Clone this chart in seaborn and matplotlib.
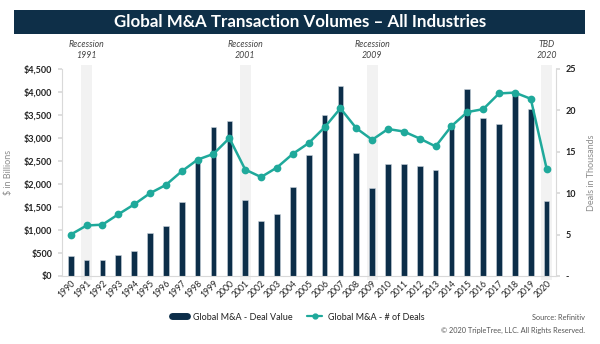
import matplotlib
matplotlib.use("Agg")
import matplotlib.pyplot as plt
from matplotlib.patches import Rectangle
from matplotlib.lines import Line2D
from matplotlib.ticker import FuncFormatter
import numpy as np
import pandas as pd
import seaborn as sns

years = [str(y) for y in range(1990, 2021)]
deal_value = [430, 340, 355, 450, 550, 940, 1090, 1600, 2480, 3230, 3380,
              1645, 1190, 1340, 1930, 2630, 3490, 4140, 2670, 1905, 2430,
              2435, 2390, 2305, 3325, 4060, 3430, 3300, 3995, 3630, 1625]
deal_count = [5.0, 6.1, 6.2, 7.45, 8.65, 10.0, 11.0, 12.65, 14.05, 14.75, 16.65,
              12.85, 11.95, 13.1, 14.75, 16.05, 17.95, 20.25, 17.85, 16.45, 17.75,
              17.45, 16.6, 15.65, 18.1, 19.8, 20.15, 22.05, 22.15, 21.4, 12.95]
recession_years = ["1991", "2001", "2009", "2020"]
recession_labels = ["Recession\n1991", "Recession\n2001", "Recession\n2009", "TBD\n2020"]

NAVY = "#0c2e49"
TEAL = "#1fa99b"
SHADE = "#f2f2f2"
GRID_GREY = "#d9d9d9"

sns.set_theme(style="white")
plt.rcParams["font.family"] = ["Lato", "DejaVu Sans"]

df = pd.DataFrame({"year": years, "value": deal_value, "deals": deal_count})

fig = plt.figure(figsize=(6.0, 3.44), dpi=100)
ax = fig.add_axes([62 / 600, 1 - 276 / 344, (556 - 62) / 600, (276 - 69) / 344])
ax2 = ax.twinx()

# Recession shading, running a little past the plot frame
for yr in recession_years:
    i = years.index(yr)
    ax.add_patch(Rectangle((i - 0.34, -90), 0.68, 4680, facecolor=SHADE,
                           edgecolor="none", clip_on=False, zorder=0))

sns.barplot(data=df, x="year", y="value", ax=ax, color=NAVY, width=0.36,
            saturation=1, edgecolor="#c9d3dc", linewidth=0.4, zorder=2)

sns.pointplot(data=df, x="year", y="deals", ax=ax2, color=TEAL,
              markers="o", markersize=4.2, linewidth=1.8, zorder=3)

ax.set_xlim(-0.55, 30.59)
ax2.set_xlim(-0.55, 30.59)
ax.set_ylim(0, 4500)
ax2.set_ylim(0, 25)
ax.set_yticks(np.arange(0, 4501, 500))
ax2.set_yticks(np.arange(0, 26, 5))
ax.yaxis.set_major_formatter(FuncFormatter(lambda v, p: f"${v:,.0f}"))
ax2.yaxis.set_major_formatter(FuncFormatter(lambda v, p: "-" if v == 0 else f"{v:.0f}"))

ax.set_zorder(ax2.get_zorder() - 1)
ax.patch.set_visible(False)
ax2.patch.set_visible(False)

for a in (ax, ax2):
    for s in a.spines.values():
        s.set_visible(False)
ax.spines["left"].set_visible(True)
ax.spines["bottom"].set_visible(True)
ax2.spines["right"].set_visible(True)
for s in (ax.spines["left"], ax.spines["bottom"], ax2.spines["right"]):
    s.set_color(GRID_GREY)
    s.set_linewidth(0.8)

ax.tick_params(axis="y", labelsize=6.5, colors="#222222", length=3,
               color=GRID_GREY, pad=4)
ax2.tick_params(axis="y", labelsize=6.5, colors="#222222", length=3,
                color=GRID_GREY, pad=4)
for lbl in ax.get_yticklabels() + ax2.get_yticklabels():
    lbl.set_fontweight("bold")
ax.tick_params(axis="x", labelsize=6.2, colors="#222222", length=0, pad=2)
plt.setp(ax.get_xticklabels(), rotation=45, ha="right", rotation_mode="anchor")
ax2.tick_params(axis="x", length=0)

ax.set_xlabel("")
ax.set_ylabel("$ in Billions", fontsize=6.5, color="#8c8c8c", labelpad=8)
ax2.set_ylabel("Deals in Thousands", fontsize=6.5, color="#8c8c8c", labelpad=8)

# Recession captions above the shaded columns
for yr, text in zip(recession_years, recession_labels):
    i = years.index(yr)
    ax.text(i, 4915, text, ha="center", va="center", fontsize=6.3,
            style="italic", color="#444444", linespacing=1.35, clip_on=False)

# Title banner
fig.patches.append(Rectangle((14 / 600, 1 - 34 / 344), (585 - 14) / 600, 24 / 344,
                             transform=fig.transFigure, facecolor="#0e2f48",
                             edgecolor="none", zorder=0))
fig.text(0.5, 1 - 22 / 344, "Global M&A Transaction Volumes \u2013 All Industries",
         ha="center", va="center", color="white", fontsize=12.2,
         fontweight="bold")

# Legend
handles = [
    Line2D([0], [0], color=NAVY, lw=5),
    Line2D([0], [0], color=TEAL, lw=1.6, marker="o", markersize=3.5),
]
fig.legend(handles, ["Global M&A - Deal Value", "Global M&A - # of Deals"],
           loc="center", bbox_to_anchor=(0.497, 1 - 317 / 344), ncol=2,
           frameon=False, fontsize=6.5, handlelength=1.7, columnspacing=1.6,
           handletextpad=0.6, labelcolor="#222222")

fig.text(585 / 600, 1 - 318 / 344, "Source: Refinitiv", ha="right", va="center",
         fontsize=5.3, color="#555555")
fig.text(585 / 600, 1 - 330 / 344, "\u00a9 2020 TripleTree, LLC. All Rights Reserved.",
         ha="right", va="center", fontsize=5.3, color="#555555")

fig.savefig("out.png", dpi=100)
